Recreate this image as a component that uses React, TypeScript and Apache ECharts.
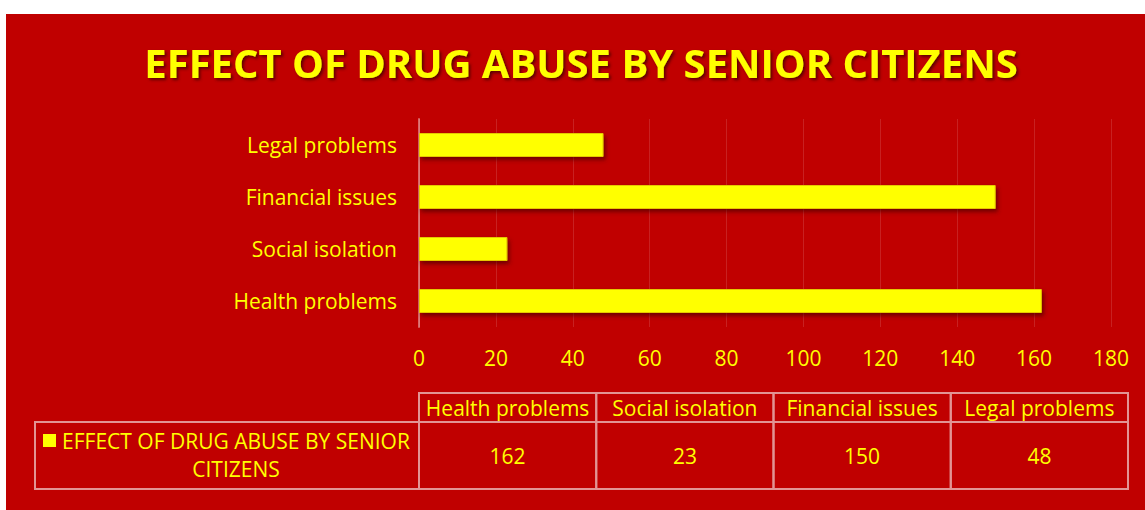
import React, { useEffect, useRef } from "react";
import * as echarts from "echarts";

const titleText = "EFFECT OF DRUG ABUSE BY SENIOR CITIZENS";
const seriesName = "EFFECT OF DRUG ABUSE BY SENIOR CITIZENS";
const categories = ["Health problems", "Social isolation", "Financial issues", "Legal problems"];
const values = [162, 23, 150, 48];
const axisMin = 0;
const axisMax = 180;
const axisInterval = 20;

const RED = "#C00000";
const YELLOW = "#FFFF00";
const FONT = "'Open Sans', 'Noto Sans', sans-serif";
const BORDER = "#E29494";
const LABEL_SIZE = 21;

export default function App() {
  const ref = useRef<HTMLDivElement>(null);
  useEffect(() => {
    if (!ref.current) return;
    const chart = echarts.init(ref.current, undefined, { renderer: "svg" });

    // table layout
    const tLeft = 35;
    const colLeft = 419;
    const colRight = 1128;
    const hTop = 393;
    const hBottom = 422;
    const dBottom = 489;
    const colW = (colRight - colLeft) / categories.length;

    const graphics: any[] = [
      {
        type: "rect",
        z: -10,
        shape: { x: 6, y: 14, width: 1145 - 6, height: 510 - 14 },
        style: { fill: RED },
        silent: true,
      },
      {
        type: "text",
        x: 581,
        y: 62,
        style: {
          text: titleText,
          fill: YELLOW,
          font: `bold 40px ${FONT}`,
          align: "center",
          verticalAlign: "middle",
          textShadowColor: "rgba(60,0,0,0.75)",
          textShadowBlur: 3,
          textShadowOffsetX: 2,
          textShadowOffsetY: 2,
        },
      },
    ];

    categories.forEach((c, i) => {
      const x = colLeft + i * colW;
      graphics.push({
        type: "rect",
        shape: { x, y: hTop, width: colW, height: hBottom - hTop },
        style: { fill: "none", stroke: BORDER, lineWidth: 2 },
      });
      graphics.push({
        type: "rect",
        shape: { x, y: hBottom, width: colW, height: dBottom - hBottom },
        style: { fill: "none", stroke: BORDER, lineWidth: 2 },
      });
      graphics.push({
        type: "text",
        x: x + colW / 2,
        y: (hTop + hBottom) / 2,
        style: {
          text: c,
          fill: YELLOW,
          font: `${LABEL_SIZE}px ${FONT}`,
          align: "center",
          verticalAlign: "middle",
        },
      });
      graphics.push({
        type: "text",
        x: x + colW / 2,
        y: (hBottom + dBottom) / 2,
        style: {
          text: String(values[i]),
          fill: YELLOW,
          font: `${LABEL_SIZE}px ${FONT}`,
          align: "center",
          verticalAlign: "middle",
        },
      });
    });

    graphics.push({
      type: "rect",
      shape: { x: tLeft, y: hBottom, width: colLeft - tLeft, height: dBottom - hBottom },
      style: { fill: "none", stroke: BORDER, lineWidth: 2 },
    });
    // legend key
    graphics.push({
      type: "rect",
      shape: { x: 43, y: 434, width: 13, height: 13 },
      style: { fill: YELLOW },
    });
    const words = seriesName.split(" ");
    const line1 = words.slice(0, words.length - 1).join(" ");
    const line2 = words[words.length - 1];
    graphics.push({
      type: "text",
      x: 236,
      y: (hBottom + dBottom) / 2 - 1,
      style: {
        text: line1 + "\n" + line2,
        fill: YELLOW,
        font: `${LABEL_SIZE}px ${FONT}`,
        lineHeight: 28,
        align: "center",
        verticalAlign: "middle",
      },
    });

    chart.setOption({
      animation: false,
      backgroundColor: "transparent",
      grid: { left: 419, right: 1145 - 1111, top: 119, bottom: 510 - 327, containLabel: false },
      xAxis: {
        type: "value",
        min: axisMin,
        max: axisMax,
        interval: axisInterval,
        axisLine: { show: false },
        axisTick: { show: false },
        axisLabel: { color: YELLOW, fontFamily: FONT, fontSize: LABEL_SIZE, margin: 20 },
        splitLine: { show: true, lineStyle: { color: "rgba(255,255,255,0.13)", width: 1 } },
      },
      yAxis: {
        type: "category",
        data: categories,
        axisLine: { show: true, lineStyle: { color: "rgba(255,255,255,0.4)", width: 2 } },
        axisTick: { show: false },
        axisLabel: { color: YELLOW, fontFamily: FONT, fontSize: LABEL_SIZE, margin: 22 },
        splitLine: { show: false },
      },
      series: [
        {
          name: seriesName,
          type: "bar",
          data: values,
          barWidth: 24,
          itemStyle: {
            color: YELLOW,
            borderColor: "#E6C800",
            borderWidth: 1,
            shadowColor: "rgba(60,0,0,0.6)",
            shadowBlur: 4,
            shadowOffsetX: 2,
            shadowOffsetY: 3,
          },
        },
      ],
      graphic: graphics,
    });
    return () => chart.dispose();
  }, []);
  return (
    <div
      ref={ref}
      style={{ position: "absolute", left: 0, top: 0, width: 1145, height: 510, background: "#fff" }}
    />
  );
}
